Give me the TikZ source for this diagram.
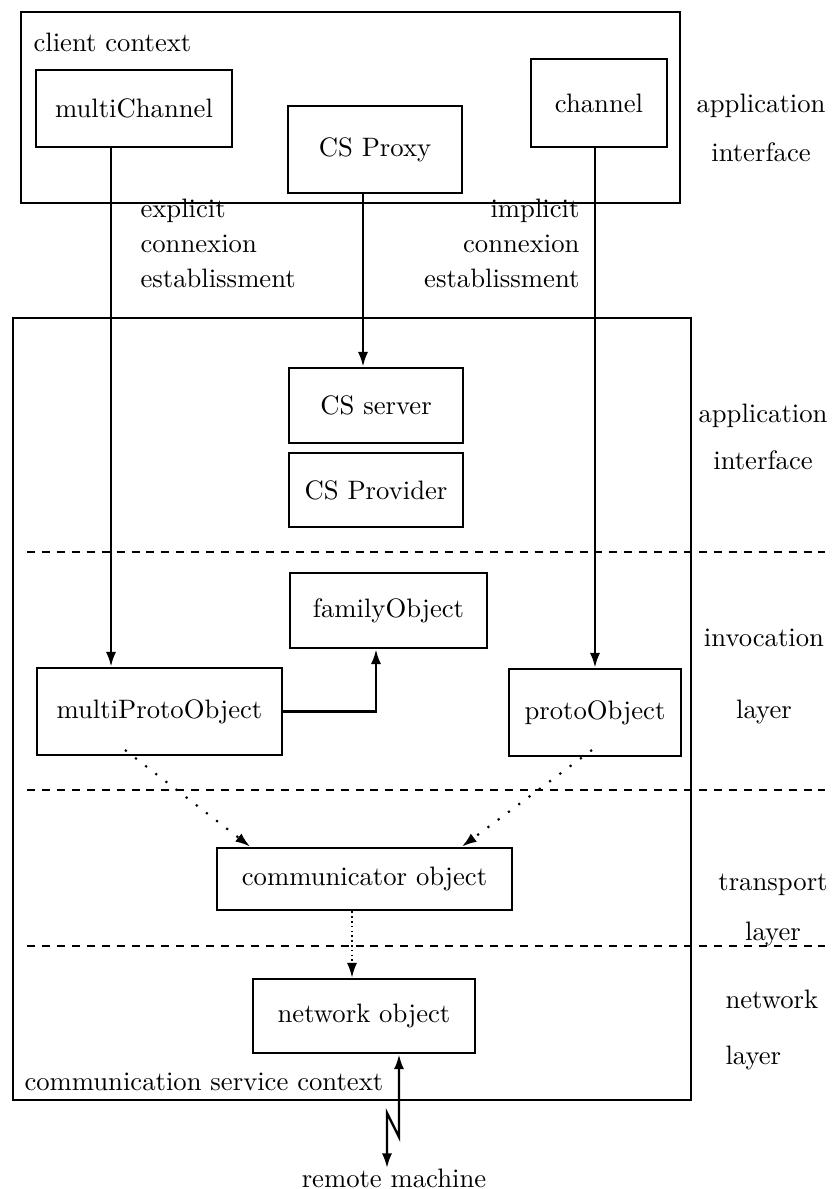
\documentclass[tikz,border=0pt]{standalone}
\usepackage{tikz}
\usetikzlibrary{arrows.meta,positioning,calc}

\begin{document}
\begin{tikzpicture}[
    x=0.375pt, y=-0.375pt,
    >={Latex[length=5.5pt,width=3.8pt]},
    frame/.style={draw, line width=1.05pt, inner sep=0pt},
    obj/.style={draw, line width=1.05pt, align=center},
    lbl/.style={align=center, inner sep=0pt},
    arr/.style={->, line width=0.9pt},
    dots/.style={->, line width=0.8pt, dash pattern=on 0.8pt off 4pt},
    finedots/.style={->, line width=0.6pt, dash pattern=on 0.6pt off 1.2pt},
    sep/.style={line width=1pt, dash pattern=on 3pt off 2.6pt}
]
    \useasboundingbox (0,0) rectangle (837,1189);

    % client context
    \node[frame, minimum width=247.1pt, minimum height=71.6pt] (client) at (350.5,107.5) {};
    \node[anchor=west, inner sep=0pt] (cctx) at (33,42) {client context};
    \node[obj, minimum width=73.5pt, minimum height=28.9pt] (mc) at (134,108.5) {multiChannel};
    \node[obj, minimum width=65.3pt, minimum height=32.6pt] (proxy) at (375,149.5) {CS Proxy};
    \node[obj, minimum width=51pt, minimum height=33pt] (ch) at (599,103) {channel};

    % communication service context
    \node[frame, minimum width=254.3pt, minimum height=293.3pt] (csc) at (352,709) {};
    \node[anchor=west, inner sep=0pt] (cstx) at (24,1082) {communication service context};
    \node[obj, minimum width=65.3pt, minimum height=28.1pt] (srv) at (376,405.5) {CS server};
    \node[obj, minimum width=65.3pt, minimum height=27.8pt] (prov) at (376,490) {CS Provider};
    \node[obj, minimum width=73.9pt, minimum height=28.1pt] (fam) at (388.5,610.5) {familyObject};
    \node[obj, minimum width=91.9pt, minimum height=32.6pt] (mp) at (159.5,711.5) {multiProtoObject};
    \node[obj, minimum width=64.5pt, minimum height=32.6pt] (pr) at (595,712.5) {protoObject};
    \node[obj, minimum width=110.6pt, minimum height=23.3pt] (com) at (364.5,879) {communicator object};
    \node[obj, minimum width=83.3pt, minimum height=27.8pt] (net) at (364,1016) {network object};
    \node[inner sep=0pt] (rm) at (394,1178) {remote machine};

    % connexion labels
    \node[align=left, anchor=west, inner sep=0pt, font={\fontsize{10}{13.1}\selectfont}] (expl) at (140,243)
        {explicit\\connexion\\establissment};
    \node[align=right, anchor=east, inner sep=0pt, font={\fontsize{10}{13.1}\selectfont}] (impl) at (580,243)
        {implicit\\connexion\\establissment};

    % layer names
    \node[lbl] (l1) at (761,127.5) {application\\[6.4pt]interface};
    \node[lbl] (l2) at (763,436.5) {application\\[5.6pt]interface};
    \node[lbl] (l3) at (764,676) {invocation\\[15pt]layer};
    \node[lbl] (l4) at (773,910) {transport\\[6.7pt]layer};
    \node[lbl, align=left, anchor=west] (l5) at (725,1030) {network\\[9pt]layer};

    % layer separators
    \foreach \y in {552,790,946}
        \draw[sep] (27,\y) -- (825,\y);

    % invocations
    \coordinate (lx) at (111,0);
    \coordinate (px) at (363,0);
    \coordinate (fx) at (376,0);
    \draw[arr] (mc.south -| lx) -- (mp.north -| lx);
    \draw[arr] (proxy.south -| px) -- (srv.north -| px);
    \draw[arr] (pr.north |- ch.south) -- (pr.north);
    \draw[arr] (mp.east) -| (fam.south -| fx);

    % transport
    \coordinate (d1) at (125,750);
    \coordinate (d2) at (592,750);
    \coordinate (t1) at (250,0);
    \coordinate (t2) at (462,0);
    \coordinate (cx) at (352,0);
    \draw[dots] (d1) -- (com.north -| t1);
    \draw[dots] (d2) -- (com.north -| t2);
    \draw[finedots] (com.south -| cx) -- (net.north -| cx);

    % link to remote machine
    \coordinate (k1) at (399,1137);
    \coordinate (k2) at (387,1113);
    \draw[<->, line width=0.9pt] (net.south -| k1) -- (k1) -- (k2) -- (rm.north -| k2);
\end{tikzpicture}
\end{document}
